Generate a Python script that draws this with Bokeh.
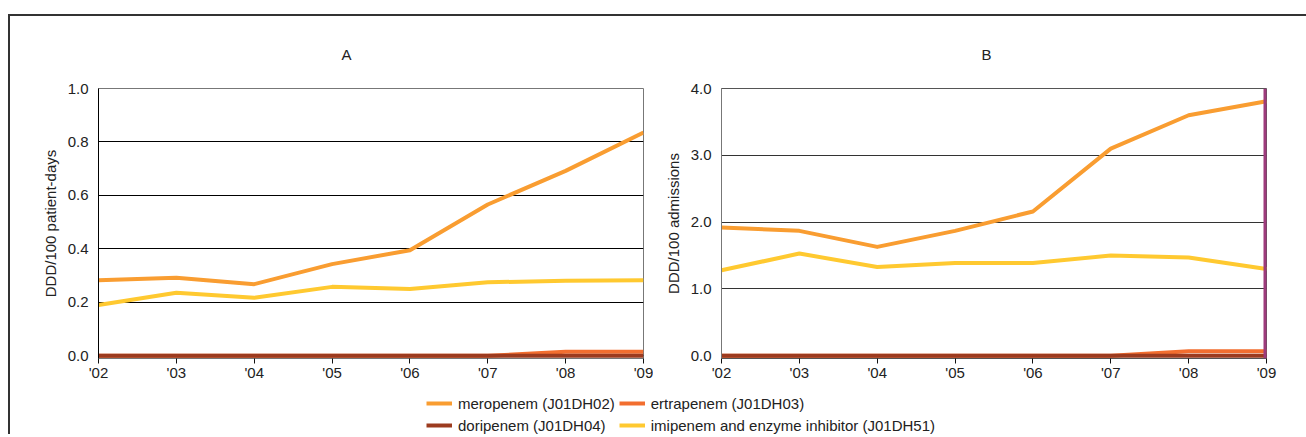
from bokeh.plotting import figure
from bokeh.models import Range1d, Span, Legend, LegendItem, FixedTicker
from bokeh.layouts import column, row
from bokeh.embed import file_html
from bokeh.resources import INLINE

# ---- data ----
years = [2002, 2003, 2004, 2005, 2006, 2007, 2008, 2009]
year_labels = ["'02", "'03", "'04", "'05", "'06", "'07", "'08", "'09"]

A_meropenem = [0.283, 0.292, 0.268, 0.343, 0.395, 0.566, 0.692, 0.835]
A_ertapenem = [0.0, 0.0, 0.0, 0.0, 0.0, 0.0, 0.015, 0.015]
A_doripenem = [0.0, 0.0, 0.0, 0.0, 0.0, 0.0, 0.0, 0.0]
A_imipenem = [0.190, 0.236, 0.217, 0.258, 0.250, 0.275, 0.281, 0.283]

B_meropenem = [1.92, 1.87, 1.63, 1.87, 2.16, 3.10, 3.60, 3.81]
B_ertapenem = [0.0, 0.0, 0.0, 0.0, 0.0, 0.0, 0.07, 0.07]
B_doripenem = [0.0, 0.0, 0.0, 0.0, 0.0, 0.0, 0.0, 0.0]
B_imipenem = [1.28, 1.53, 1.33, 1.39, 1.39, 1.50, 1.47, 1.30]

A_yticks = [0.0, 0.2, 0.4, 0.6, 0.8, 1.0]
A_ylabels = ["0.0", "0.2", "0.4", "0.6", "0.8", "1.0"]
B_yticks = [0.0, 1.0, 2.0, 3.0, 4.0]
B_ylabels = ["0.0", "1.0", "2.0", "3.0", "4.0"]

series_names = ["meropenem (J01DH02)", "ertrapenem (J01DH03)",
                "doripenem (J01DH04)", "imipenem and enzyme inhibitor (J01DH51)"]
series_colors = ["#F99D31", "#F26E2F", "#9C3B1F", "#FFC930"]

FONT = "'Liberation Sans Narrow', 'Liberation Sans', Arial, sans-serif"
TXT = "#222222"
LW = 4


def panel(title, ylabel, ymax, yticks, ylabels, series, axis_col, outline_col,
          grid_col, min_left, min_right, title_offset):
    p = figure(width=min_left + 545 + min_right, height=378,
               x_range=Range1d(2002, 2009),
               y_range=Range1d(-ymax * 0.01, ymax),
               output_backend="svg", toolbar_location=None,
               min_border_left=min_left, min_border_right=min_right,
               min_border_top=72, min_border_bottom=36)
    p.title.text = title
    p.title.align = "left"
    p.title.offset = title_offset
    p.title.standoff = 52
    p.title.text_font = FONT
    p.title.text_font_size = "15px"
    p.title.text_font_style = "normal"
    p.title.text_color = TXT

    p.outline_line_color = outline_col
    p.outline_line_width = 1
    p.xgrid.visible = False
    p.ygrid.ticker = FixedTicker(ticks=yticks)
    p.ygrid.grid_line_color = grid_col
    p.ygrid.grid_line_alpha = 1.0

    xa = p.xaxis[0]
    xa.ticker = FixedTicker(ticks=years)
    xa.major_label_overrides = {y: l for y, l in zip(years, year_labels)}
    xa.axis_line_color = None
    xa.major_tick_out = 5
    xa.major_tick_in = 0
    xa.major_tick_line_color = "#111111"
    xa.minor_tick_line_color = None
    xa.major_label_standoff = 0

    ya = p.yaxis[0]
    ya.ticker = FixedTicker(ticks=yticks)
    ya.major_label_overrides = {t: l for t, l in zip(yticks, ylabels)}
    ya.axis_line_color = axis_col
    ya.major_tick_out = 0
    ya.major_tick_in = 0
    ya.minor_tick_line_color = None
    ya.major_label_standoff = 10
    ya.axis_label = ylabel
    ya.axis_label_standoff = 6

    for ax in (xa, ya):
        ax.major_label_text_font = FONT
        ax.major_label_text_font_size = "15px"
        ax.major_label_text_color = TXT
        ax.axis_label_text_font = FONT
        ax.axis_label_text_font_size = "15px"
        ax.axis_label_text_font_style = "normal"
        ax.axis_label_text_color = TXT

    # draw order: meropenem, imipenem, ertrapenem, doripenem
    for idx in (0, 3, 1, 2):
        p.line(years, series[idx], line_color=series_colors[idx], line_width=LW,
               line_join="round")
    return p


pA = panel("A", "DDD/100 patient-days", 1.0, A_yticks, A_ylabels,
           [A_meropenem, A_ertapenem, A_doripenem, A_imipenem],
           axis_col="#000000", outline_col="#777777", grid_col="#000000",
           min_left=88, min_right=10, title_offset=243)
pB = panel("B", "DDD/100 admissions", 4.0, B_yticks, B_ylabels,
           [B_meropenem, B_ertapenem, B_doripenem, B_imipenem],
           axis_col="#777777", outline_col="#555555", grid_col="#333333",
           min_left=68, min_right=30, title_offset=260)
pB.add_layout(Span(location=2009, dimension="height", line_color="#9E3B7C",
                   line_width=6))

# legend figure: series drawn outside the visible range, only the legend shows
lf = figure(width=1296, height=40, x_range=Range1d(0, 1), y_range=Range1d(0, 1),
            output_backend="svg", toolbar_location=None, min_border=0,
            x_axis_type=None, y_axis_type=None)
lf.outline_line_color = None
lf.xgrid.visible = False
lf.ygrid.visible = False
items = []
for name, col, vals in zip(series_names, series_colors,
                           [A_meropenem, A_ertapenem, A_doripenem, A_imipenem]):
    r = lf.line(x=years, y=vals, line_color=col, line_width=LW)
    items.append(LegendItem(label=name, renderers=[r]))
leg = Legend(items=items, orientation="horizontal", ncols=2, location=(416, 0),
             padding=0, margin=0, spacing=4, label_height=18, glyph_height=18,
             glyph_width=26, label_standoff=6, border_line_color=None,
             background_fill_alpha=0, label_text_font=FONT,
             label_text_font_size="15px", label_text_color=TXT)
lf.add_layout(leg, "center")

root = column(row(pA, pB), lf,
              styles={"border-top": "2px solid #333333",
                      "border-left": "2px solid #333333",
                      "margin-top": "14px", "margin-left": "8px"})

open("out.html", "w").write(file_html(root, INLINE))
